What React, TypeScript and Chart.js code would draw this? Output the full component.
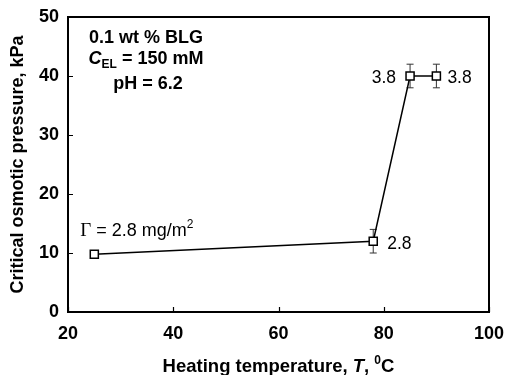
import React, { useEffect, useRef } from "react";
import { Chart, registerables } from "chart.js";

Chart.register(...registerables);

const temperatures = [25, 78, 85, 90];
const pressures = [9.8, 12, 40, 40];
const pressureErrors = [0.4, 2, 2, 2];
const coverageLabels = ["2.8", "2.8", "3.8", "3.8"];
const xTicks = [20, 40, 60, 80, 100];
const yTicks = [0, 10, 20, 30, 40, 50];
const xTitle = "Heating temperature, ";
const yTitle = "Critical osmotic pressure, kPa";

const SANS = '"Liberation Sans", Arial, sans-serif';
const SERIF = '"Liberation Serif", "Times New Roman", serif';

type Run = { t: string; font: string; dy?: number; w?: number };

function drawRuns(ctx: CanvasRenderingContext2D, runs: Run[], x: number, y: number, align: "left" | "center" | "right") {
  let total = 0;
  runs.forEach((r) => {
    ctx.font = r.font;
    r.w = ctx.measureText(r.t).width;
    total += r.w;
  });
  let cx = align === "center" ? x - total / 2 : align === "right" ? x - total : x;
  ctx.textAlign = "left";
  ctx.textBaseline = "alphabetic";
  runs.forEach((r) => {
    ctx.font = r.font;
    ctx.fillText(r.t, cx, y + (r.dy || 0));
    cx += r.w || 0;
  });
}

const customPlugin = {
  id: "custom",
  beforeDatasetsDraw(chart: any) {
    const ctx = chart.ctx as CanvasRenderingContext2D;
    const xs = chart.scales.x;
    const ys = chart.scales.y;
    ctx.save();
    ctx.strokeStyle = "#333";
    ctx.lineWidth = 1;
    temperatures.forEach((t, i) => {
      const px = xs.getPixelForValue(t);
      const top = ys.getPixelForValue(pressures[i] + pressureErrors[i]);
      const bot = ys.getPixelForValue(pressures[i] - pressureErrors[i]);
      ctx.beginPath();
      ctx.moveTo(px, top);
      ctx.lineTo(px, bot);
      ctx.moveTo(px - 3.5, top);
      ctx.lineTo(px + 3.5, top);
      ctx.moveTo(px - 3.5, bot);
      ctx.lineTo(px + 3.5, bot);
      ctx.stroke();
    });
    ctx.restore();
  },
  afterDraw(chart: any) {
    const ctx = chart.ctx as CanvasRenderingContext2D;
    const xs = chart.scales.x;
    const ys = chart.scales.y;
    const left = xs.getPixelForValue(xs.min);
    const right = xs.getPixelForValue(xs.max);
    const top = ys.getPixelForValue(ys.max);
    const bottom = ys.getPixelForValue(ys.min);
    ctx.save();
    // frame
    ctx.strokeStyle = "#000";
    ctx.lineWidth = 2;
    ctx.strokeRect(left, top, right - left, bottom - top);
    // inward ticks
    ctx.lineWidth = 1.2;
    ctx.beginPath();
    xTicks.forEach((v) => {
      const px = Math.round(xs.getPixelForValue(v)) + 0.5;
      ctx.moveTo(px, bottom);
      ctx.lineTo(px, bottom - 5);
    });
    yTicks.forEach((v) => {
      const py = Math.round(ys.getPixelForValue(v)) + 0.5;
      ctx.moveTo(left, py);
      ctx.lineTo(left + 5, py);
    });
    ctx.stroke();

    ctx.fillStyle = "#000";
    // info block
    const cx = 146;
    drawRuns(ctx, [{ t: "0.1 wt % BLG", font: `bold 18px ${SANS}` }], cx, 43, "center");
    drawRuns(
      ctx,
      [
        { t: "C", font: `italic bold 18px ${SANS}` },
        { t: "EL", font: `bold 12px ${SANS}`, dy: 4 },
        { t: " = 150 mM", font: `bold 18px ${SANS}` },
      ],
      cx,
      64,
      "center"
    );
    drawRuns(ctx, [{ t: "pH = 6.2", font: `bold 18px ${SANS}` }], cx + 2, 89, "center");

    // point labels
    const reg = `17.5px ${SANS}`;
    temperatures.forEach((t, i) => {
      const px = xs.getPixelForValue(t);
      const py = ys.getPixelForValue(pressures[i]);
      if (i === 0) {
        drawRuns(
          ctx,
          [
            { t: "\u0393", font: `19px ${SERIF}` },
            { t: " = " + coverageLabels[i] + " mg/m", font: `18px ${SANS}` },
            { t: "2", font: `12px ${SANS}`, dy: -8 },
          ],
          px - 14,
          py - 18,
          "left"
        );
      } else if (i === 1) {
        drawRuns(ctx, [{ t: coverageLabels[i], font: reg }], px + 14, py + 8, "left");
      } else if (i === 2) {
        drawRuns(ctx, [{ t: coverageLabels[i], font: reg }], px - 14, py + 7, "right");
      } else {
        drawRuns(ctx, [{ t: coverageLabels[i], font: reg }], px + 11, py + 7, "left");
      }
    });

    // axis titles
    const midX = (left + right) / 2;
    drawRuns(
      ctx,
      [
        { t: xTitle, font: `bold 18.5px ${SANS}` },
        { t: "T", font: `italic bold 18.5px ${SANS}` },
        { t: ", ", font: `bold 18.5px ${SANS}` },
        { t: "0", font: `bold 12px ${SANS}`, dy: -8 },
        { t: "C", font: `bold 18.5px ${SANS}` },
      ],
      midX,
      372,
      "center"
    );
    ctx.translate(23, (top + bottom) / 2);
    ctx.rotate(-Math.PI / 2);
    drawRuns(ctx, [{ t: yTitle, font: `bold 18px ${SANS}` }], 0, 0, "center");
    ctx.restore();
  },
};

export default function App() {
  const ref = useRef<HTMLCanvasElement>(null);
  useEffect(() => {
    document.body.style.margin = "0";
    const chart = new Chart(ref.current as HTMLCanvasElement, {
      type: "line",
      data: {
        datasets: [
          {
            data: temperatures.map((t, i) => ({ x: t, y: pressures[i] })),
            borderColor: "#000",
            borderWidth: 1.5,
            pointStyle: "rect",
            pointRadius: 5.7,
            pointBackgroundColor: "#fff",
            pointBorderColor: "#000",
            pointBorderWidth: 1.5,
            tension: 0,
          },
        ],
      },
      options: {
        animation: false,
        responsive: false,
        events: [],
        layout: { padding: { top: 17, right: 16, left: 0, bottom: 0 } },
        plugins: { legend: { display: false }, tooltip: { enabled: false }, title: { display: false } },
        scales: {
          x: {
            type: "linear",
            min: 20,
            max: 100,
            grid: { display: false, drawTicks: false },
            border: { display: false },
            afterBuildTicks: (s: any) => {
              s.ticks = xTicks.map((v) => ({ value: v }));
            },
            afterFit: (s: any) => {
              s.height = 63;
              s.paddingLeft = 0;
              s.paddingRight = 0;
            },
            ticks: { color: "#000", padding: 11, font: { family: SANS, size: 18, weight: "bold" } },
          },
          y: {
            type: "linear",
            min: 0,
            max: 50,
            grid: { display: false, drawTicks: false },
            border: { display: false },
            afterBuildTicks: (s: any) => {
              s.ticks = yTicks.map((v) => ({ value: v }));
            },
            afterFit: (s: any) => {
              s.width = 68;
              s.paddingTop = 0;
              s.paddingBottom = 0;
            },
            ticks: { color: "#000", padding: 9, font: { family: SANS, size: 18, weight: "bold" } },
          },
        },
      },
      plugins: [customPlugin],
    });
    return () => chart.destroy();
  }, []);
  return (
    <div style={{ position: "absolute", left: 0, top: 0, width: 505, height: 375, background: "#fff" }}>
      <canvas ref={ref} width={505} height={375} />
    </div>
  );
}
